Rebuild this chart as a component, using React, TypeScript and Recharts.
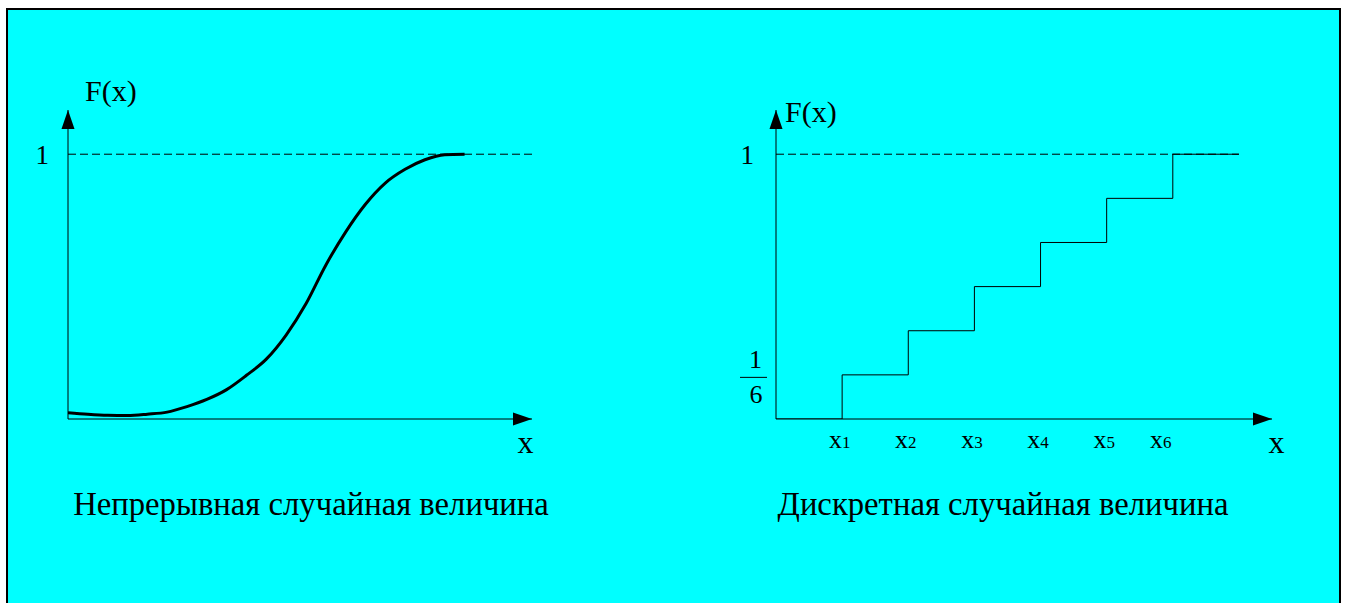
import React from 'react';
import { LineChart, Line, XAxis, YAxis, ReferenceLine, ReferenceDot } from 'recharts';

const FONT = "'Liberation Serif', 'Times New Roman', serif";

// непрерывная функция распределения
const contX = [0, 0.5, 1, 1.5, 2, 2.5, 3, 3.5, 4, 4.5, 5, 5.5, 6, 6.5, 7, 7.5, 8, 8.5, 9, 9.5, 10];
const contF = [0.024, 0.018, 0.014, 0.013, 0.018, 0.026, 0.047, 0.074, 0.111, 0.165, 0.226, 0.317, 0.435, 0.581, 0.706, 0.811, 0.891, 0.943, 0.979, 0.998, 1.0];

// дискретная: шесть значений по 1/6
const stepX = [0, 1, 2, 3, 4, 5, 6, 7];
const stepF = [0, 1 / 6, 2 / 6, 3 / 6, 4 / 6, 5 / 6, 1, 1];
const stepTicks = [1, 2, 3, 4, 5, 6];

const titles = ['Непрерывная случайная величина', 'Дискретная случайная величина'];
const yName = 'F(x)';
const xName = 'x';

const Y_TOP = 1.167;

const contData = contX.map((x, i) => ({ x, f: contF[i] }));
const stepData = stepX.map((x, i) => ({ x, f: stepF[i] }));

const arrowRight = (p: any) => (
  <polygon points={`${p.cx - 19},${p.cy - 6.5} ${p.cx},${p.cy} ${p.cx - 19},${p.cy + 6.5}`} fill="#000" />
);
const arrowUp = (p: any) => (
  <polygon points={`${p.cx - 6.5},${p.cy + 19} ${p.cx},${p.cy} ${p.cx + 6.5},${p.cy + 19}`} fill="#000" />
);

const yLabel = (dx: number, dy: number) => (props: any) => {
  const vb = props.viewBox;
  return (
    <text x={vb.x + vb.width + dx} y={vb.y + dy} fontSize={30} fontFamily={FONT} fill="#000">
      {yName}
    </text>
  );
};

const xLabel = (xdx: number, capDx: number, title: string) => (props: any) => {
  const vb = props.viewBox;
  return (
    <g fontFamily={FONT} fill="#000">
      <text x={vb.x + vb.width + xdx} y={vb.y + 34} fontSize={32} textAnchor="middle">
        {xName}
      </text>
      <text x={vb.x + capDx} y={vb.y + 96} fontSize={32.7} textAnchor="middle">
        {title}
      </text>
    </g>
  );
};

const OneTick = (dx: number) => (props: any) => (
  <text x={props.x + dx} y={props.y + 10} fontSize={27} fontFamily={FONT} textAnchor="end" fill="#000">
    1
  </text>
);

const StepYTick = (props: any) => {
  const { x, y, payload } = props;
  if (payload.value > 0.5) {
    return (
      <text x={x - 22} y={y + 10} fontSize={27} fontFamily={FONT} textAnchor="end" fill="#000">
        1
      </text>
    );
  }
  return (
    <g fontFamily={FONT} fontSize={26} fill="#000">
      <text x={x - 20.5} y={y - 7} textAnchor="middle">1</text>
      <line x1={x - 36} x2={x - 9} y1={y + 2.5} y2={y + 2.5} stroke="#000" strokeWidth={1} />
      <text x={x - 20} y={y + 28} textAnchor="middle">6</text>
    </g>
  );
};

const StepXTick = (props: any) => {
  const { x, y, payload } = props;
  const nudge = payload.value === 6 ? -12 : -2.5;
  return (
    <text x={x + nudge} y={y + 29} textAnchor="middle" fontFamily={FONT} fill="#000">
      <tspan fontSize={26}>x</tspan>
      <tspan fontSize={17}>{payload.value}</tspan>
    </text>
  );
};

export default function App() {
  return (
    <div style={{ position: 'absolute', left: 0, top: 0, width: 1348, height: 603, overflow: 'hidden', background: '#fff' }}>
      <div
        style={{
          position: 'absolute', left: 6, top: 8, width: 1335, height: 660,
          border: '2px solid #000', boxSizing: 'border-box', background: '#00ffff',
        }}
      />
      <div style={{ position: 'absolute', left: 0, top: 0 }}>
        <LineChart width={680} height={603} data={contData} margin={{ top: 110, right: 148, bottom: 144, left: 28 }}>
          <XAxis
            dataKey="x" type="number" domain={[0, 11.7]} allowDataOverflow height={40}
            axisLine={{ stroke: '#000' }} tick={false} tickLine={false} tickSize={0}
            label={xLabel(-6.5, 243, titles[0])}
          />
          <YAxis
            type="number" domain={[0, Y_TOP]} allowDataOverflow width={40} ticks={[1]} interval={0}
            axisLine={{ stroke: '#000' }} tickLine={false} tickSize={0} tickMargin={0}
            tick={OneTick(-19)} label={yLabel(17, -9.5)}
          />
          <ReferenceLine y={1} stroke="#000" strokeDasharray="8 4" />
          <Line dataKey="f" type="monotone" stroke="#000" strokeWidth={3} dot={false} isAnimationActive={false} />
          <ReferenceDot x={11.7} y={0} r={1} shape={arrowRight} />
          <ReferenceDot x={0} y={Y_TOP} r={1} shape={arrowUp} />
        </LineChart>
      </div>
      <div style={{ position: 'absolute', left: 680, top: 0 }}>
        <LineChart width={668} height={603} data={stepData} margin={{ top: 110, right: 76, bottom: 144, left: 56 }}>
          <XAxis
            dataKey="x" type="number" domain={[0, 7.5]} allowDataOverflow height={40}
            axisLine={{ stroke: '#000' }} ticks={stepTicks} interval={0} tickLine={false}
            tickSize={0} tickMargin={0} tick={StepXTick}
            label={xLabel(4.5, 227, titles[1])}
          />
          <YAxis
            type="number" domain={[0, Y_TOP]} allowDataOverflow width={40} ticks={[1 / 6, 1]} interval={0}
            axisLine={{ stroke: '#000' }} tickLine={false} tickSize={0} tickMargin={0}
            tick={StepYTick} label={yLabel(9, 12)}
          />
          <ReferenceLine segment={[{ x: 0, y: 1 }, { x: 7, y: 1 }]} stroke="#000" strokeDasharray="8 4" />
          <Line dataKey="f" type="stepAfter" stroke="#000" strokeWidth={1} dot={false} isAnimationActive={false} />
          <ReferenceDot x={7.5} y={0} r={1} shape={arrowRight} />
          <ReferenceDot x={0} y={Y_TOP} r={1} shape={arrowUp} />
        </LineChart>
      </div>
    </div>
  );
}
